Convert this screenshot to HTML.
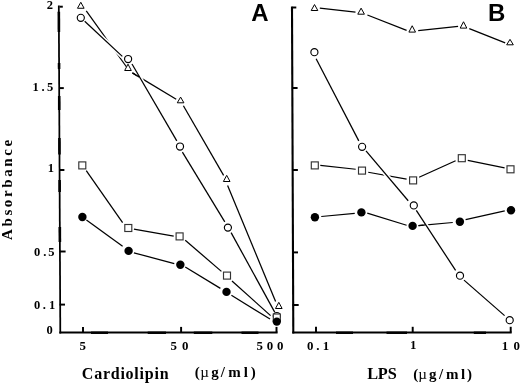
<!DOCTYPE html>
<html><head><meta charset="utf-8"><style>
html,body{margin:0;padding:0;background:#fff;}
body{width:520px;height:384px;overflow:hidden;font-family:"Liberation Serif",serif;}
svg{display:block;will-change:transform;}
.sf{font-family:"Liberation Serif",serif;font-weight:bold;}
.ss{font-family:"Liberation Sans",sans-serif;font-weight:bold;}
</style></head><body>
<svg width="520" height="384" viewBox="0 0 520 384">
<rect width="520" height="384" fill="#fff"/>
<line x1="58.8" y1="5.6" x2="60.3" y2="333.4" stroke="#000" stroke-width="1.75" stroke-linecap="butt"/>
<line x1="58.83" y1="11.7" x2="58.92" y2="32" stroke="#000" stroke-width="2.6" stroke-linecap="butt"/>
<line x1="59.06" y1="63" x2="59.09" y2="69" stroke="#000" stroke-width="2.6" stroke-linecap="butt"/>
<line x1="59.21" y1="96" x2="59.28" y2="110" stroke="#000" stroke-width="2.6" stroke-linecap="butt"/>
<line x1="59.41" y1="138" x2="59.48" y2="154.4" stroke="#000" stroke-width="2.6" stroke-linecap="butt"/>
<line x1="59.6" y1="180" x2="59.65" y2="192" stroke="#000" stroke-width="2.6" stroke-linecap="butt"/>
<line x1="59.81" y1="227" x2="59.88" y2="242" stroke="#000" stroke-width="2.6" stroke-linecap="butt"/>
<line x1="59.3" y1="332.4" x2="277.6" y2="332.4" stroke="#000" stroke-width="1.95" stroke-linecap="butt"/>
<line x1="59.5" y1="6.7" x2="62.8" y2="6.7" stroke="#000" stroke-width="1.95" stroke-linecap="butt"/>
<line x1="59.5" y1="88.1" x2="63.8" y2="88.1" stroke="#000" stroke-width="1.95" stroke-linecap="butt"/>
<line x1="59.5" y1="170" x2="64.4" y2="170" stroke="#000" stroke-width="1.95" stroke-linecap="butt"/>
<line x1="59.5" y1="251.5" x2="65.6" y2="251.5" stroke="#000" stroke-width="1.95" stroke-linecap="butt"/>
<line x1="59.5" y1="304.6" x2="65" y2="304.6" stroke="#000" stroke-width="1.95" stroke-linecap="butt"/>
<line x1="83" y1="326.9" x2="83" y2="332.4" stroke="#000" stroke-width="1.95" stroke-linecap="butt"/>
<line x1="181.1" y1="326.9" x2="181.1" y2="332.4" stroke="#000" stroke-width="1.95" stroke-linecap="butt"/>
<line x1="276.5" y1="326.9" x2="276.5" y2="332.4" stroke="#000" stroke-width="1.95" stroke-linecap="butt"/>
<line x1="91" y1="332.75" x2="108" y2="332.75" stroke="#000" stroke-width="2.4" stroke-linecap="butt"/>
<line x1="147.7" y1="332.75" x2="166" y2="332.75" stroke="#000" stroke-width="2.4" stroke-linecap="butt"/>
<line x1="193.8" y1="332.75" x2="212.3" y2="332.75" stroke="#000" stroke-width="2.4" stroke-linecap="butt"/>
<line x1="241.5" y1="332.75" x2="258.5" y2="332.75" stroke="#000" stroke-width="2.4" stroke-linecap="butt"/>
<line x1="336" y1="332.75" x2="353" y2="332.75" stroke="#000" stroke-width="2.4" stroke-linecap="butt"/>
<line x1="386.5" y1="332.75" x2="407" y2="332.75" stroke="#000" stroke-width="2.4" stroke-linecap="butt"/>
<line x1="473.8" y1="332.75" x2="486" y2="332.75" stroke="#000" stroke-width="2.4" stroke-linecap="butt"/>
<line x1="292" y1="6.6" x2="293.3" y2="333.4" stroke="#000" stroke-width="2.1" stroke-linecap="butt"/>
<line x1="292.3" y1="332.4" x2="511.7" y2="332.4" stroke="#000" stroke-width="1.95" stroke-linecap="butt"/>
<line x1="292.5" y1="7.5" x2="296.3" y2="7.5" stroke="#000" stroke-width="1.95" stroke-linecap="butt"/>
<line x1="292.5" y1="88" x2="297.6" y2="88" stroke="#000" stroke-width="1.95" stroke-linecap="butt"/>
<line x1="292.5" y1="170" x2="297.9" y2="170" stroke="#000" stroke-width="1.95" stroke-linecap="butt"/>
<line x1="292.5" y1="252.4" x2="298" y2="252.4" stroke="#000" stroke-width="1.95" stroke-linecap="butt"/>
<line x1="292.5" y1="305" x2="298.7" y2="305" stroke="#000" stroke-width="1.95" stroke-linecap="butt"/>
<line x1="316" y1="326.8" x2="316" y2="332.4" stroke="#000" stroke-width="1.95" stroke-linecap="butt"/>
<line x1="412.7" y1="326.8" x2="412.7" y2="332.4" stroke="#000" stroke-width="1.95" stroke-linecap="butt"/>
<line x1="510.7" y1="326.8" x2="510.7" y2="332.4" stroke="#000" stroke-width="1.95" stroke-linecap="butt"/>
<line x1="86.25" y1="10.9" x2="126.4" y2="66.75" stroke="#000" stroke-width="1.25" stroke-linecap="butt"/>
<line x1="132.4" y1="72.9" x2="176.2" y2="99.25" stroke="#000" stroke-width="1.25" stroke-linecap="butt"/>
<line x1="183.4" y1="105.8" x2="223.6" y2="175.4" stroke="#000" stroke-width="1.25" stroke-linecap="butt"/>
<line x1="227.6" y1="185.4" x2="275.6" y2="301.6" stroke="#000" stroke-width="1.25" stroke-linecap="butt"/>
<line x1="86.25" y1="170.6" x2="122.6" y2="222.6" stroke="#000" stroke-width="1.25" stroke-linecap="butt"/>
<line x1="133.9" y1="229.1" x2="173.7" y2="236.2" stroke="#000" stroke-width="1.25" stroke-linecap="butt"/>
<line x1="185.25" y1="240.25" x2="221.4" y2="271.4" stroke="#000" stroke-width="1.25" stroke-linecap="butt"/>
<line x1="232" y1="281" x2="270.6" y2="315.6" stroke="#000" stroke-width="1.25" stroke-linecap="butt"/>
<line x1="86.4" y1="220" x2="122.6" y2="246.25" stroke="#000" stroke-width="1.25" stroke-linecap="butt"/>
<line x1="133.9" y1="252.8" x2="174.3" y2="263.6" stroke="#000" stroke-width="1.25" stroke-linecap="butt"/>
<line x1="185.25" y1="267" x2="220.4" y2="288.4" stroke="#000" stroke-width="1.25" stroke-linecap="butt"/>
<line x1="231.4" y1="295.3" x2="270" y2="319" stroke="#000" stroke-width="1.25" stroke-linecap="butt"/>
<line x1="319.8" y1="8.2" x2="355.5" y2="12.2" stroke="#000" stroke-width="1.25" stroke-linecap="butt"/>
<line x1="367.4" y1="15" x2="406.6" y2="30.4" stroke="#000" stroke-width="1.25" stroke-linecap="butt"/>
<line x1="418.2" y1="30.7" x2="458.1" y2="26.4" stroke="#000" stroke-width="1.25" stroke-linecap="butt"/>
<line x1="469.3" y1="28.6" x2="505.2" y2="42.8" stroke="#000" stroke-width="1.25" stroke-linecap="butt"/>
<line x1="320.3" y1="165.4" x2="355.7" y2="169.25" stroke="#000" stroke-width="1.25" stroke-linecap="butt"/>
<line x1="368.2" y1="172.25" x2="406.6" y2="179.1" stroke="#000" stroke-width="1.25" stroke-linecap="butt"/>
<line x1="419.1" y1="177.25" x2="455.6" y2="160.7" stroke="#000" stroke-width="1.25" stroke-linecap="butt"/>
<line x1="467.75" y1="160.4" x2="504.6" y2="167.9" stroke="#000" stroke-width="1.25" stroke-linecap="butt"/>
<line x1="321.25" y1="216.5" x2="354.75" y2="213.4" stroke="#000" stroke-width="1.25" stroke-linecap="butt"/>
<line x1="367.25" y1="213.1" x2="406.6" y2="225.25" stroke="#000" stroke-width="1.25" stroke-linecap="butt"/>
<line x1="418.5" y1="225.6" x2="452.75" y2="222.5" stroke="#000" stroke-width="1.25" stroke-linecap="butt"/>
<line x1="465.6" y1="219.6" x2="504.75" y2="210.8" stroke="#000" stroke-width="1.25" stroke-linecap="butt"/>
<line x1="84.7" y1="21.25" x2="122.3" y2="56.4" stroke="#fff" stroke-width="4.3" stroke-linecap="butt"/>
<line x1="84.7" y1="21.25" x2="122.3" y2="56.4" stroke="#000" stroke-width="1.25" stroke-linecap="butt"/>
<line x1="132" y1="64" x2="176.8" y2="140.9" stroke="#fff" stroke-width="4.3" stroke-linecap="butt"/>
<line x1="132" y1="64" x2="176.8" y2="140.9" stroke="#000" stroke-width="1.25" stroke-linecap="butt"/>
<line x1="182.4" y1="152.1" x2="224.8" y2="221.9" stroke="#fff" stroke-width="4.3" stroke-linecap="butt"/>
<line x1="182.4" y1="152.1" x2="224.8" y2="221.9" stroke="#000" stroke-width="1.25" stroke-linecap="butt"/>
<line x1="231.1" y1="232.6" x2="274.7" y2="312.1" stroke="#fff" stroke-width="4.3" stroke-linecap="butt"/>
<line x1="231.1" y1="232.6" x2="274.7" y2="312.1" stroke="#000" stroke-width="1.25" stroke-linecap="butt"/>
<line x1="316.1" y1="58.75" x2="358.8" y2="140.9" stroke="#fff" stroke-width="4.3" stroke-linecap="butt"/>
<line x1="316.1" y1="58.75" x2="358.8" y2="140.9" stroke="#000" stroke-width="1.25" stroke-linecap="butt"/>
<line x1="366" y1="150.9" x2="408.2" y2="200.75" stroke="#fff" stroke-width="4.3" stroke-linecap="butt"/>
<line x1="366" y1="150.9" x2="408.2" y2="200.75" stroke="#000" stroke-width="1.25" stroke-linecap="butt"/>
<line x1="416.3" y1="210.4" x2="455.6" y2="270.4" stroke="#fff" stroke-width="4.3" stroke-linecap="butt"/>
<line x1="416.3" y1="210.4" x2="455.6" y2="270.4" stroke="#000" stroke-width="1.25" stroke-linecap="butt"/>
<line x1="464" y1="280.1" x2="504.6" y2="315.6" stroke="#fff" stroke-width="4.3" stroke-linecap="butt"/>
<line x1="464" y1="280.1" x2="504.6" y2="315.6" stroke="#000" stroke-width="1.25" stroke-linecap="butt"/>
<line x1="132.4" y1="72.9" x2="139.4" y2="77.1" stroke="#000" stroke-width="1.25" stroke-linecap="butt"/>
<line x1="418.5" y1="225.6" x2="425.6" y2="224.95" stroke="#000" stroke-width="1.25" stroke-linecap="butt"/>
<path d="M80.8 2.25L77.48 8.25L84.12 8.25Z" fill="#fff" stroke="#000" stroke-width="1.0" stroke-linejoin="miter"/>
<path d="M128 64.15L124.68 70.5L131.32 70.5Z" fill="#fff" stroke="#000" stroke-width="1.0" stroke-linejoin="miter"/>
<path d="M180.6 97.1L177.28 102.8L183.92 102.8Z" fill="#fff" stroke="#000" stroke-width="1.0" stroke-linejoin="miter"/>
<path d="M226.7 175.35L223.38 181.5L230.02 181.5Z" fill="#fff" stroke="#000" stroke-width="1.0" stroke-linejoin="miter"/>
<path d="M278.8 302.35L275.48 308.5L282.12 308.5Z" fill="#fff" stroke="#000" stroke-width="1.0" stroke-linejoin="miter"/>
<circle cx="80.8" cy="17.8" r="3.55" fill="#fff" stroke="#000" stroke-width="1.15"/>
<circle cx="128.1" cy="59" r="3.55" fill="#fff" stroke="#000" stroke-width="1.15"/>
<circle cx="180" cy="146.5" r="3.55" fill="#fff" stroke="#000" stroke-width="1.15"/>
<circle cx="227.9" cy="227.6" r="3.55" fill="#fff" stroke="#000" stroke-width="1.15"/>
<circle cx="276.8" cy="316" r="3.55" fill="#fff" stroke="#000" stroke-width="1.15"/>
<rect x="78.8" y="161.9" width="7" height="7" fill="#fff" stroke="#333" stroke-width="1.15"/>
<rect x="124.8" y="224.5" width="7" height="7" fill="#fff" stroke="#333" stroke-width="1.15"/>
<rect x="176.1" y="232.9" width="7" height="7" fill="#fff" stroke="#333" stroke-width="1.15"/>
<rect x="223.5" y="272.1" width="7" height="7" fill="#fff" stroke="#333" stroke-width="1.15"/>
<rect x="273.3" y="314" width="7" height="7" fill="#fff" stroke="#333" stroke-width="1.15"/>
<circle cx="82.4" cy="217" r="4.2" fill="#000"/>
<circle cx="128.6" cy="250.9" r="4.2" fill="#000"/>
<circle cx="180.35" cy="264.7" r="4.2" fill="#000"/>
<circle cx="226.5" cy="291.9" r="4.2" fill="#000"/>
<circle cx="276.8" cy="321.6" r="4.2" fill="#000"/>
<path d="M314.5 4.55L311.18 10.5L317.82 10.5Z" fill="#fff" stroke="#000" stroke-width="1.0" stroke-linejoin="miter"/>
<path d="M361.1 8.15L357.78 14.2L364.42 14.2Z" fill="#fff" stroke="#000" stroke-width="1.0" stroke-linejoin="miter"/>
<path d="M412.2 25.75L408.88 32.1L415.52 32.1Z" fill="#fff" stroke="#000" stroke-width="1.0" stroke-linejoin="miter"/>
<path d="M463.5 21.75L460.18 28.1L466.82 28.1Z" fill="#fff" stroke="#000" stroke-width="1.0" stroke-linejoin="miter"/>
<path d="M510 39.35L506.68 44.8L513.32 44.8Z" fill="#fff" stroke="#000" stroke-width="1.0" stroke-linejoin="miter"/>
<circle cx="314.4" cy="52.2" r="3.55" fill="#fff" stroke="#000" stroke-width="1.15"/>
<circle cx="362.1" cy="146.8" r="3.55" fill="#fff" stroke="#000" stroke-width="1.15"/>
<circle cx="413.8" cy="205.4" r="3.55" fill="#fff" stroke="#000" stroke-width="1.15"/>
<circle cx="460" cy="275.7" r="3.55" fill="#fff" stroke="#000" stroke-width="1.15"/>
<circle cx="509.7" cy="320.2" r="3.55" fill="#fff" stroke="#000" stroke-width="1.15"/>
<rect x="311.3" y="161.9" width="7" height="7" fill="#fff" stroke="#333" stroke-width="1.15"/>
<rect x="358.5" y="167.1" width="7" height="7" fill="#fff" stroke="#333" stroke-width="1.15"/>
<rect x="409.6" y="176.9" width="7" height="7" fill="#fff" stroke="#333" stroke-width="1.15"/>
<rect x="458.3" y="154.7" width="7" height="7" fill="#fff" stroke="#333" stroke-width="1.15"/>
<rect x="507" y="165.8" width="7" height="7" fill="#fff" stroke="#333" stroke-width="1.15"/>
<circle cx="314.9" cy="217.2" r="4.2" fill="#000"/>
<circle cx="361.4" cy="212.4" r="4.2" fill="#000"/>
<circle cx="412.6" cy="225.9" r="4.2" fill="#000"/>
<circle cx="459.9" cy="221.8" r="4.2" fill="#000"/>
<circle cx="511" cy="210.3" r="4.2" fill="#000"/>
<text class="sf" x="46.7" y="8.75" font-size="12.5" >2</text>
<text class="sf" x="32.5 41.4 47" y="90.5" font-size="12.5" >1.5</text>
<text class="sf" x="47.75" y="171.9" font-size="12.5" >1</text>
<text class="sf" x="33.9 43.2 48.25" y="255.6" font-size="12.5" >0.5</text>
<text class="sf" x="33.9 42.8 49" y="309.3" font-size="12.5" >0.1</text>
<text class="sf" x="46.4" y="334.3" font-size="12.5" >0</text>
<text class="sf" x="79.48" y="349.6" font-size="12.9" >5</text>
<text class="sf" x="170.38 182.01" y="349.9" font-size="12.9" >50</text>
<text class="sf" x="256.38 266.71 277.01" y="350.4" font-size="12.9" >500</text>
<text class="sf" x="307.11 316.33 322.87" y="349.9" font-size="12.9" >0.1</text>
<text class="sf" x="410.07" y="349.3" font-size="12.9" >1</text>
<text class="sf" x="501.72 513.51" y="349.9" font-size="12.9" >10</text>
<text class="sf" x="81.82" y="378.5" font-size="16" letter-spacing="0.76">Cardiolipin</text>
<text class="sf" x="194.81" y="377.1" font-size="15" >(</text>
<text class="sf" x="200.29" y="377.1" font-size="15" style="font-weight:normal">µ</text>
<text class="sf" x="211.18" y="377.1" font-size="15" >g</text>
<text class="sf" x="220.81" y="377.1" font-size="15" >/</text>
<text class="sf" x="228.23" y="377.1" font-size="15" >m</text>
<text class="sf" x="243.79" y="377.1" font-size="15" >l</text>
<text class="sf" x="250.74" y="377.1" font-size="15" >)</text>
<text class="sf" x="367.36" y="379" font-size="16.3" >L</text>
<text class="sf" x="377.75" y="379" font-size="16.3" >P</text>
<text class="sf" x="387.86" y="379" font-size="16.3" >S</text>
<text class="sf" x="413.36" y="378.7" font-size="15" >(</text>
<text class="sf" x="418.19" y="378.7" font-size="15" style="font-weight:normal">µ</text>
<text class="sf" x="429.11" y="378.7" font-size="15" >g</text>
<text class="sf" x="439.11" y="378.7" font-size="15" >/</text>
<text class="sf" x="446.03" y="378.7" font-size="15" >m</text>
<text class="sf" x="460.99" y="378.7" font-size="15" >l</text>
<text class="sf" x="467.04" y="378.7" font-size="15" >)</text>
<text class="sf" transform="translate(12.1,239.8) rotate(-90)" x="-0.15" y="0" font-size="15" letter-spacing="2.6">Absorbance</text>
<text class="ss" x="251.3" y="21.1" font-size="24" >A</text>
<text class="ss" x="488" y="21.1" font-size="24" >B</text>
</svg>
</body></html>
